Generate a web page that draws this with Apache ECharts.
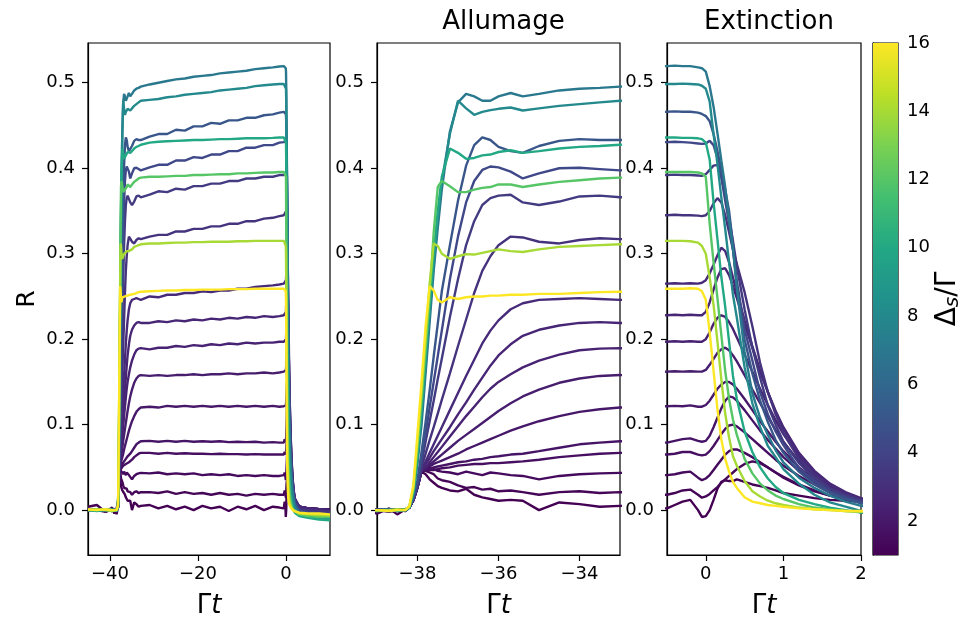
<!DOCTYPE html>
<html><head><meta charset="utf-8">
<script src="https://cdn.jsdelivr.net/npm/echarts@6/dist/echarts.min.js"></script>
<style>html,body{margin:0;padding:0;background:#fff}#c{width:961px;height:621px}</style>
</head><body><div id="c"></div>
<script>
// shared time grid (Γt)
const T = [-45,-43,-41,-39.5,-39,-38.7,-38.5,-38.3,-38.2,
  -38.1,-38,-37.9,-37.8,-37.7,-37.6,-37.5,-37.4,-37.2,-37,-36.8,-36.6,-36.4,-36.2,-36,-35.7,-35.4,-35,-34.5,-34,-33.5,-33,
  -31,-29,-27,-25,-23,-21,-19,-17,-15,-13,-11,-9,-7,-5,-3,-1.5,
  -0.5,-0.4,-0.3,-0.2,-0.1,-0.05,0,0.05,0.1,0.15,0.2,0.25,0.3,0.35,0.4,0.5,0.6,0.7,0.8,0.9,1,1.2,1.4,1.6,1.8,2,
  3,5,7.5,10];

const DELTAS = [1,1.2,1.4,1.6,1.8,2,2.2,2.4,2.6,2.8,3.2,3.6,4.2,5,7,8,10,12,14,16];

const R_D1_0 = [0.004,0.006,-0.002,0.003,-0.004,0.002,-0.005,0.001,0.003,
  0.012,0.027,0.045,0.042,0.036,0.032,0.028,0.026,0.023,0.022,0.025,0.018,0.015,0.013,0.011,0.012,0.011,0,0.009,0.007,0.004,0.005,
  0.006,0.002,0.005,0.001,0.004,0,0.005,0.002,0.004,-0.001,0.004,0.001,0.005,0,0.004,0.003,
  0.002,0.006,0.01,0.012,0,-0.008,-0.007,0,0.012,0.025,0.033,0.035,0.034,0.034,0.036,0.033,0.03,0.028,0.026,0.023,0.02,0.017,0.014,0.012,0.011,0.01,
  0.004,0.002,0.001,0.001];
const R_D1_2 = [0.001,0,-0.002,0.001,0,-0.002,0,0.001,0.003,
  0.012,0.027,0.046,0.046,0.044,0.042,0.037,0.035,0.033,0.029,0.026,0.027,0.024,0.025,0.022,0.023,0.021,0.018,0.021,0.022,0.02,0.021,
  0.021,0.02,0.022,0.019,0.021,0.019,0.02,0.018,0.02,0.018,0.019,0.017,0.019,0.018,0.019,0.018,
  0.018,0.02,0.023,0.024,0.018,0.0145,0.016,0.019,0.023,0.027,0.032,0.036,0.04,0.044,0.048,0.054,0.057,0.055,0.05,0.044,0.038,0.029,0.022,0.017,0.013,0.01,
  0.004,0.002,0.001,0];
const R_D1_4 = [0,0.001,0,-0.001,0,0,0,0.001,0.003,
  0.012,0.027,0.046,0.048,0.049,0.048,0.046,0.045,0.044,0.042,0.045,0.043,0.041,0.044,0.043,0.041,0.04,0.036,0.04,0.042,0.043,0.0436,
  0.043,0.044,0.042,0.043,0.042,0.043,0.041,0.042,0.041,0.042,0.04,0.041,0.04,0.041,0.04,0.04,
  0.041,0.042,0.044,0.045,0.038,0.035,0.037,0.041,0.047,0.053,0.059,0.065,0.069,0.071,0.071,0.067,0.062,0.056,0.05,0.044,0.039,0.03,0.023,0.017,0.013,0.01,
  0.004,0.002,0.001,0];
const R_D1_6 = [0.001,0,0,0,0,0.001,0,0,0.003,
  0.012,0.027,0.046,0.046,0.047,0.047,0.048,0.049,0.05,0.052,0.053,0.054,0.054,0.055,0.055,0.056,0.057,0.059,0.062,0.064,0.066,0.067,
  0.067,0.066,0.067,0.066,0.0665,0.066,0.066,0.0655,0.066,0.0655,0.0655,0.065,0.0655,0.065,0.065,0.065,
  0.065,0.066,0.068,0.068,0.065,0.064,0.065,0.069,0.075,0.082,0.089,0.095,0.099,0.1,0.098,0.091,0.083,0.075,0.067,0.059,0.052,0.04,0.03,0.021,0.015,0.011,
  0.004,0.002,0.001,0];
const R_D1_8 = [0,0,0.001,0,0,0,-0.001,0,0.003,
  0.012,0.027,0.046,0.047,0.048,0.05,0.051,0.052,0.054,0.056,0.057,0.059,0.06,0.062,0.063,0.065,0.066,0.069,0.073,0.077,0.079,0.0805,
  0.081,0.08,0.081,0.08,0.081,0.08,0.0805,0.08,0.0805,0.0795,0.08,0.0795,0.08,0.079,0.0795,0.079,
  0.079,0.081,0.083,0.084,0.081,0.08,0.081,0.087,0.097,0.108,0.119,0.128,0.133,0.132,0.128,0.117,0.105,0.093,0.082,0.072,0.062,0.046,0.033,0.023,0.016,0.011,
  0.004,0.002,0.001,0];
const R_D2_0 = [0.001,0,0,0,-0.001,0,0.001,0,0.003,
  0.012,0.027,0.046,0.048,0.051,0.054,0.056,0.058,0.062,0.066,0.071,0.075,0.079,0.083,0.087,0.093,0.098,0.104,0.11,0.115,0.118,0.12,
  0.121,0.12,0.122,0.121,0.122,0.121,0.122,0.121,0.122,0.121,0.122,0.121,0.122,0.121,0.122,0.121,
  0.1215,0.122,0.1215,0.1225,0.121,0.121,0.123,0.128,0.135,0.142,0.147,0.15,0.15,0.147,0.142,0.13,0.117,0.104,0.092,0.08,0.069,0.05,0.036,0.025,0.017,0.012,
  0.004,0.002,0.001,0];
const R_D2_2 = [0,0.001,0,0,0.001,0,0,-0.001,0.003,
  0.012,0.027,0.046,0.049,0.053,0.057,0.061,0.065,0.073,0.081,0.088,0.095,0.102,0.109,0.116,0.125,0.133,0.141,0.149,0.154,0.157,0.158,
  0.157,0.158,0.157,0.158,0.158,0.159,0.158,0.159,0.159,0.16,0.159,0.16,0.16,0.161,0.16,0.161,
  0.162,0.1625,0.162,0.1625,0.162,0.162,0.164,0.17,0.177,0.184,0.188,0.19,0.187,0.181,0.174,0.158,0.141,0.125,0.109,0.094,0.08,0.057,0.04,0.028,0.019,0.013,
  0.004,0.002,0.001,0];
const R_D2_4 = [0,0,0.001,0,0,-0.001,0,0,0.003,
  0.012,0.027,0.047,0.05,0.056,0.062,0.068,0.074,0.086,0.098,0.11,0.121,0.132,0.142,0.15,0.159,0.167,0.175,0.182,0.187,0.189,0.1895,
  0.188,0.19,0.19,0.192,0.191,0.193,0.192,0.194,0.193,0.195,0.194,0.196,0.195,0.196,0.196,0.197,
  0.197,0.1975,0.197,0.1975,0.197,0.197,0.2,0.208,0.218,0.225,0.228,0.226,0.22,0.212,0.202,0.182,0.162,0.142,0.123,0.105,0.089,0.063,0.044,0.03,0.02,0.013,
  0.004,0.002,0.001,0];
const R_D2_6 = [0.001,0,0,-0.001,0,0.001,0,0,0.003,
  0.012,0.027,0.047,0.054,0.061,0.069,0.076,0.083,0.097,0.112,0.126,0.141,0.155,0.169,0.181,0.194,0.204,0.211,0.216,0.219,0.22,0.219,
  0.219,0.221,0.22,0.222,0.221,0.223,0.222,0.224,0.223,0.225,0.224,0.226,0.225,0.227,0.226,0.227,
  0.228,0.2285,0.228,0.2285,0.228,0.228,0.232,0.243,0.258,0.272,0.282,0.283,0.275,0.262,0.248,0.218,0.19,0.162,0.138,0.116,0.097,0.067,0.046,0.031,0.021,0.014,
  0.004,0.002,0.001,0];
const R_D2_8 = [0,0.001,0,0,-0.001,0,0,0.001,0.003,
  0.012,0.027,0.047,0.057,0.067,0.077,0.087,0.097,0.117,0.137,0.157,0.176,0.195,0.21,0.222,0.235,0.242,0.246,0.247,0.248,0.247,0.246,
  0.25,0.249,0.252,0.252,0.254,0.254,0.256,0.255,0.257,0.257,0.259,0.259,0.261,0.262,0.263,0.264,
  0.265,0.2655,0.265,0.2655,0.265,0.266,0.269,0.277,0.287,0.298,0.307,0.303,0.29,0.272,0.255,0.222,0.192,0.163,0.138,0.115,0.095,0.065,0.044,0.03,0.02,0.013,
  0.003,0.001,0,-0.001];
const R_D3_2 = [0,0,-0.001,0.001,0,0,0,0,0.003,
  0.012,0.028,0.05,0.066,0.082,0.097,0.113,0.129,0.16,0.192,0.223,0.254,0.28,0.297,0.31,0.32,0.319,0.314,0.312,0.316,0.318,0.317,
  0.32,0.322,0.322,0.326,0.326,0.329,0.329,0.332,0.332,0.335,0.335,0.338,0.338,0.341,0.342,0.344,
  0.345,0.3455,0.345,0.345,0.3445,0.344,0.345,0.35,0.359,0.365,0.36,0.345,0.325,0.305,0.288,0.255,0.215,0.172,0.138,0.112,0.09,0.06,0.041,0.026,0.018,0.012,
  0.002,0,-0.001,-0.002];
const R_D3_6 = [0,0.001,0,0,0,0,0.001,-0.001,0.003,
  0.013,0.03,0.055,0.08,0.104,0.128,0.153,0.177,0.226,0.27,0.31,0.338,0.357,0.365,0.368,0.369,0.36,0.357,0.361,0.367,0.368,0.366,
  0.369,0.373,0.372,0.376,0.375,0.379,0.379,0.382,0.382,0.385,0.385,0.388,0.388,0.39,0.39,0.392,
  0.392,0.3925,0.392,0.392,0.3915,0.391,0.393,0.398,0.403,0.404,0.39,0.368,0.342,0.315,0.285,0.235,0.19,0.155,0.122,0.1,0.08,0.055,0.037,0.025,0.017,0.011,
  0,-0.002,-0.003,-0.004];
const R_D4_2 = [0.001,0,0,0,0.001,0,-0.001,0,0.003,
  0.014,0.032,0.06,0.09,0.12,0.15,0.18,0.21,0.27,0.32,0.36,0.385,0.398,0.402,0.401,0.396,0.388,0.394,0.4,0.4005,0.399,0.3975,
  0.401,0.404,0.404,0.409,0.409,0.413,0.412,0.416,0.416,0.42,0.42,0.424,0.424,0.427,0.427,0.43,
  0.4305,0.431,0.4305,0.43,0.429,0.4285,0.429,0.432,0.427,0.412,0.39,0.362,0.336,0.305,0.268,0.212,0.175,0.138,0.112,0.092,0.076,0.049,0.034,0.022,0.015,0.0095,
  -0.001,-0.003,-0.004,-0.005];
const R_D5 = [0,0,0.001,0,0,-0.001,0,0,0.003,
  0.015,0.035,0.068,0.103,0.14,0.18,0.218,0.256,0.31,0.362,0.403,0.427,0.436,0.433,0.425,0.42,0.418,0.426,0.432,0.434,0.433,0.433,
  0.437,0.44,0.44,0.445,0.444,0.449,0.449,0.453,0.452,0.456,0.456,0.459,0.459,0.462,0.463,0.465,
  0.466,0.4665,0.466,0.466,0.465,0.4635,0.461,0.455,0.44,0.42,0.398,0.375,0.35,0.31,0.262,0.2,0.16,0.128,0.103,0.082,0.067,0.045,0.03,0.02,0.013,0.008,
  -0.002,-0.004,-0.005,-0.006];
const R_D7 = [0.001,0,0,-0.001,0,0.001,0,0,0.003,
  0.02,0.055,0.1,0.16,0.22,0.28,0.33,0.375,0.443,0.477,0.487,0.484,0.479,0.479,0.484,0.488,0.484,0.487,0.491,0.493,0.494,0.4955,
  0.498,0.5,0.502,0.504,0.505,0.507,0.508,0.509,0.511,0.512,0.513,0.514,0.516,0.517,0.518,0.519,
  0.5195,0.52,0.5195,0.5195,0.518,0.517,0.513,0.496,0.472,0.441,0.409,0.378,0.34,0.305,0.26,0.185,0.137,0.108,0.088,0.07,0.056,0.038,0.026,0.017,0.01,0.005,
  -0.004,-0.006,-0.008,-0.009];
const R_D8 = [0,0.001,0,0,-0.001,0,0,0,0.003,
  0.02,0.06,0.11,0.17,0.23,0.29,0.34,0.385,0.44,0.479,0.47,0.4625,0.466,0.468,0.4695,0.471,0.4675,0.47,0.473,0.475,0.477,0.479,
  0.48,0.481,0.483,0.484,0.486,0.487,0.488,0.489,0.491,0.492,0.493,0.494,0.496,0.497,0.498,0.4985,
  0.4985,0.4985,0.499,0.4985,0.498,0.4965,0.493,0.478,0.44,0.405,0.366,0.329,0.29,0.252,0.225,0.167,0.125,0.097,0.075,0.062,0.048,0.031,0.018,0.009,0.004,-0.001,
  -0.006,-0.008,-0.009,-0.01];
const R_D10 = [0,-0.001,0,0.001,0,0,-0.001,0,0.003,
  0.022,0.065,0.12,0.18,0.24,0.3,0.35,0.39,0.423,0.418,0.411,0.412,0.415,0.416,0.419,0.421,0.418,0.42,0.423,0.425,0.426,0.4275,
  0.43,0.431,0.4315,0.432,0.4325,0.433,0.433,0.4335,0.434,0.434,0.4345,0.435,0.435,0.435,0.4355,0.436,
  0.436,0.436,0.4355,0.4355,0.435,0.434,0.43,0.41,0.36,0.317,0.273,0.238,0.197,0.157,0.13,0.092,0.068,0.05,0.037,0.027,0.02,0.012,0.007,0.003,0,-0.003,
  -0.007,-0.009,-0.011,-0.012];
const R_D12 = [0,0,0.001,0,-0.001,0,0,0.001,0.004,
  0.025,0.075,0.13,0.19,0.25,0.325,0.378,0.385,0.379,0.372,0.372,0.375,0.377,0.378,0.381,0.381,0.378,0.381,0.384,0.386,0.388,0.389,
  0.39,0.39,0.3905,0.391,0.391,0.392,0.392,0.3925,0.393,0.393,0.394,0.394,0.3945,0.395,0.395,0.3955,
  0.3955,0.3955,0.3955,0.3955,0.395,0.394,0.39,0.335,0.29,0.248,0.205,0.163,0.13,0.106,0.088,0.06,0.043,0.031,0.023,0.017,0.013,0.007,0.003,0.001,-0.001,-0.002,
  -0.005,-0.007,-0.008,-0.008];
const R_D14 = [0,0.001,0,-0.001,0,0,0.001,0,0.004,
  0.027,0.08,0.14,0.2,0.265,0.312,0.309,0.3,0.294,0.297,0.2995,0.299,0.301,0.303,0.305,0.303,0.302,0.305,0.308,0.309,0.31,0.311,
  0.312,0.312,0.3125,0.313,0.313,0.3135,0.3135,0.314,0.314,0.314,0.3145,0.3145,0.315,0.315,0.315,0.315,
  0.315,0.315,0.315,0.3145,0.313,0.309,0.3,0.272,0.24,0.197,0.153,0.113,0.085,0.063,0.052,0.034,0.022,0.016,0.011,0.008,0.006,0.003,0.001,0,-0.001,-0.002,
  -0.004,-0.005,-0.006,-0.006];
const R_D16 = [0.001,0,0.001,0,0,-0.001,0,0,0.005,
  0.03,0.09,0.15,0.215,0.262,0.257,0.246,0.243,0.249,0.247,0.249,0.25,0.25,0.251,0.251,0.252,0.252,0.253,0.253,0.254,0.255,0.2555,
  0.256,0.2565,0.257,0.257,0.2575,0.2575,0.258,0.258,0.258,0.2585,0.2585,0.2585,0.259,0.259,0.259,0.259,
  0.259,0.259,0.259,0.2595,0.259,0.256,0.246,0.208,0.163,0.118,0.083,0.06,0.045,0.033,0.026,0.015,0.01,0.008,0.006,0.005,0.004,0.002,0.001,0,-0.001,-0.001,
  -0.003,-0.004,-0.004,-0.005];

const CURVES = [R_D1_0,R_D1_2,R_D1_4,R_D1_6,R_D1_8,R_D2_0,R_D2_2,R_D2_4,R_D2_6,R_D2_8,
  R_D3_2,R_D3_6,R_D4_2,R_D5,R_D7,R_D8,R_D10,R_D12,R_D14,R_D16];

const Y_TICKS = [0,0.1,0.2,0.3,0.4,0.5];
const Y_RANGE = [-0.0525,0.5465];
const X1_RANGE = [-45,10], X1_TICKS = [-40,-20,0];
const X2_RANGE = [-39,-33], X2_TICKS = [-38,-36,-34];
const X3_RANGE = [-0.5,2], X3_TICKS = [0,1,2];
const CB_RANGE = [1,16], CB_TICKS = [2,4,6,8,10,12,14,16];
const TITLES = ['Allumage','Extinction'];

const VIRIDIS = ['#440154','#482475','#414487','#355f8d','#2a788e','#21918c','#22a884','#44bf70','#7ad151','#bddf26','#fde725'];
function hex(c){return [parseInt(c.slice(1,3),16),parseInt(c.slice(3,5),16),parseInt(c.slice(5,7),16)];}
function viridis(f){
  f=Math.max(0,Math.min(1,f));
  const p=f*(VIRIDIS.length-1), i=Math.min(Math.floor(p),VIRIDIS.length-2), r=p-i;
  const a=hex(VIRIDIS[i]), b=hex(VIRIDIS[i+1]);
  return 'rgb('+a.map((v,k)=>Math.round(v+(b[k]-v)*r)).join(',')+')';
}

const FONT = 'DejaVu Sans';
const minus = v => (v<0?'\u2212':'') + Math.abs(v);
const lblStyle = {color:'#000', fontSize:18, fontFamily:FONT};
const tickStyle = {show:true, inside:false, length:6, lineStyle:{color:'#000', width:1.2}};
const lineAx = {show:true, onZero:false, lineStyle:{color:'#000', width:1.2}};

const grids = [
  {left:88, top:43, width:242, height:512},
  {left:377, top:43, width:243, height:512},
  {left:667, top:43, width:194, height:512},
  {left:873, top:43, width:25, height:512}
].map(g => Object.assign({show:true, borderColor:'#000', borderWidth:1.2, backgroundColor:'transparent',
  containLabel:false, outerBoundsMode:'none'}, g));

const gtName = {name:'{g|\u0393}{t|t}', nameLocation:'middle', nameGap:38,
  nameTextStyle:{rich:{g:{fontSize:26, fontFamily:FONT, color:'#000'}, t:{fontSize:26, fontFamily:FONT, fontStyle:'italic', color:'#000'}}}};

function xAx(i, range, ticks){
  return Object.assign({gridIndex:i, type:'value', min:range[0], max:range[1],
    axisLine:lineAx, axisTick:Object.assign({customValues:ticks}, tickStyle),
    axisLabel:Object.assign({customValues:ticks, formatter:minus, margin:10}, lblStyle),
    splitLine:{show:false}}, gtName);
}
function yAx(i, extra){
  return Object.assign({gridIndex:i, type:'value', min:Y_RANGE[0], max:Y_RANGE[1],
    axisLine:lineAx, axisTick:Object.assign({customValues:Y_TICKS}, tickStyle),
    axisLabel:Object.assign({customValues:Y_TICKS, formatter:v=>v.toFixed(1), margin:13}, lblStyle),
    splitLine:{show:false}}, extra||{});
}

const xAxis = [xAx(0,X1_RANGE,X1_TICKS), xAx(1,X2_RANGE,X2_TICKS), xAx(2,X3_RANGE,X3_TICKS),
  {gridIndex:3, type:'value', min:0, max:1, show:false}];
const yAxis = [
  yAx(0,{name:'R', nameLocation:'middle', nameGap:48, nameRotate:90, nameTextStyle:{fontSize:25, fontFamily:FONT, color:'#000'}}),
  yAx(1), yAx(2),
  {gridIndex:3, type:'value', position:'right', min:CB_RANGE[0], max:CB_RANGE[1],
   axisLine:{show:true, lineStyle:{color:'#000', width:1.2}},
   axisTick:Object.assign({customValues:CB_TICKS}, tickStyle),
   axisLabel:Object.assign({customValues:CB_TICKS, margin:9}, lblStyle),
   splitLine:{show:false},
   name:'{d|\u0394}{s|s}{d|/\u0393}', nameLocation:'middle', nameRotate:90, nameGap:34,
   nameTextStyle:{rich:{d:{fontSize:28, fontFamily:FONT, color:'#000'}, s:{fontSize:20, fontFamily:FONT, fontStyle:'italic', color:'#000', padding:[10,0,0,0]}}}}
];

const series = [];
for (let g=0; g<3; g++){
  CURVES.forEach((vals, k) => {
    series.push({type:'line', xAxisIndex:g, yAxisIndex:g, data:T.map((t,i)=>[t, vals[i]]),
      showSymbol:false, symbol:'none', clip:true, silent:true,
      lineStyle:{width:2.4, color:viridis((DELTAS[k]-CB_RANGE[0])/(CB_RANGE[1]-CB_RANGE[0]))}});
  });
}
const stops = VIRIDIS.map((c,i)=>({offset:i/(VIRIDIS.length-1), color:c}));
series.push({type:'custom', xAxisIndex:3, yAxisIndex:3, silent:true, clip:true,
  data:[[0, CB_RANGE[0], 1, CB_RANGE[1]]], encode:{x:[0,2], y:[1,3]},
  renderItem:(params, api)=>{
    const p0 = api.coord([api.value(0), api.value(1)]);
    const p1 = api.coord([api.value(2), api.value(3)]);
    return {type:'rect', shape:{x:p0[0], y:p1[1], width:p1[0]-p0[0], height:p0[1]-p1[1]},
      style:{fill:new echarts.graphic.LinearGradient(0,1,0,0,stops)}, z2:-1};
  }});

const title = [
  {text:TITLES[0], left:498.5, top:4, textAlign:'center', textStyle:{fontSize:26, fontWeight:'normal', color:'#000', fontFamily:FONT}},
  {text:TITLES[1], left:764, top:4, textAlign:'center', textStyle:{fontSize:26, fontWeight:'normal', color:'#000', fontFamily:FONT}}
];

const chart = echarts.init(document.getElementById('c'), null, {renderer:'canvas'});
chart.setOption({animation:false, backgroundColor:'#fff', title, grid:grids, xAxis, yAxis, series});
</script></body></html>
